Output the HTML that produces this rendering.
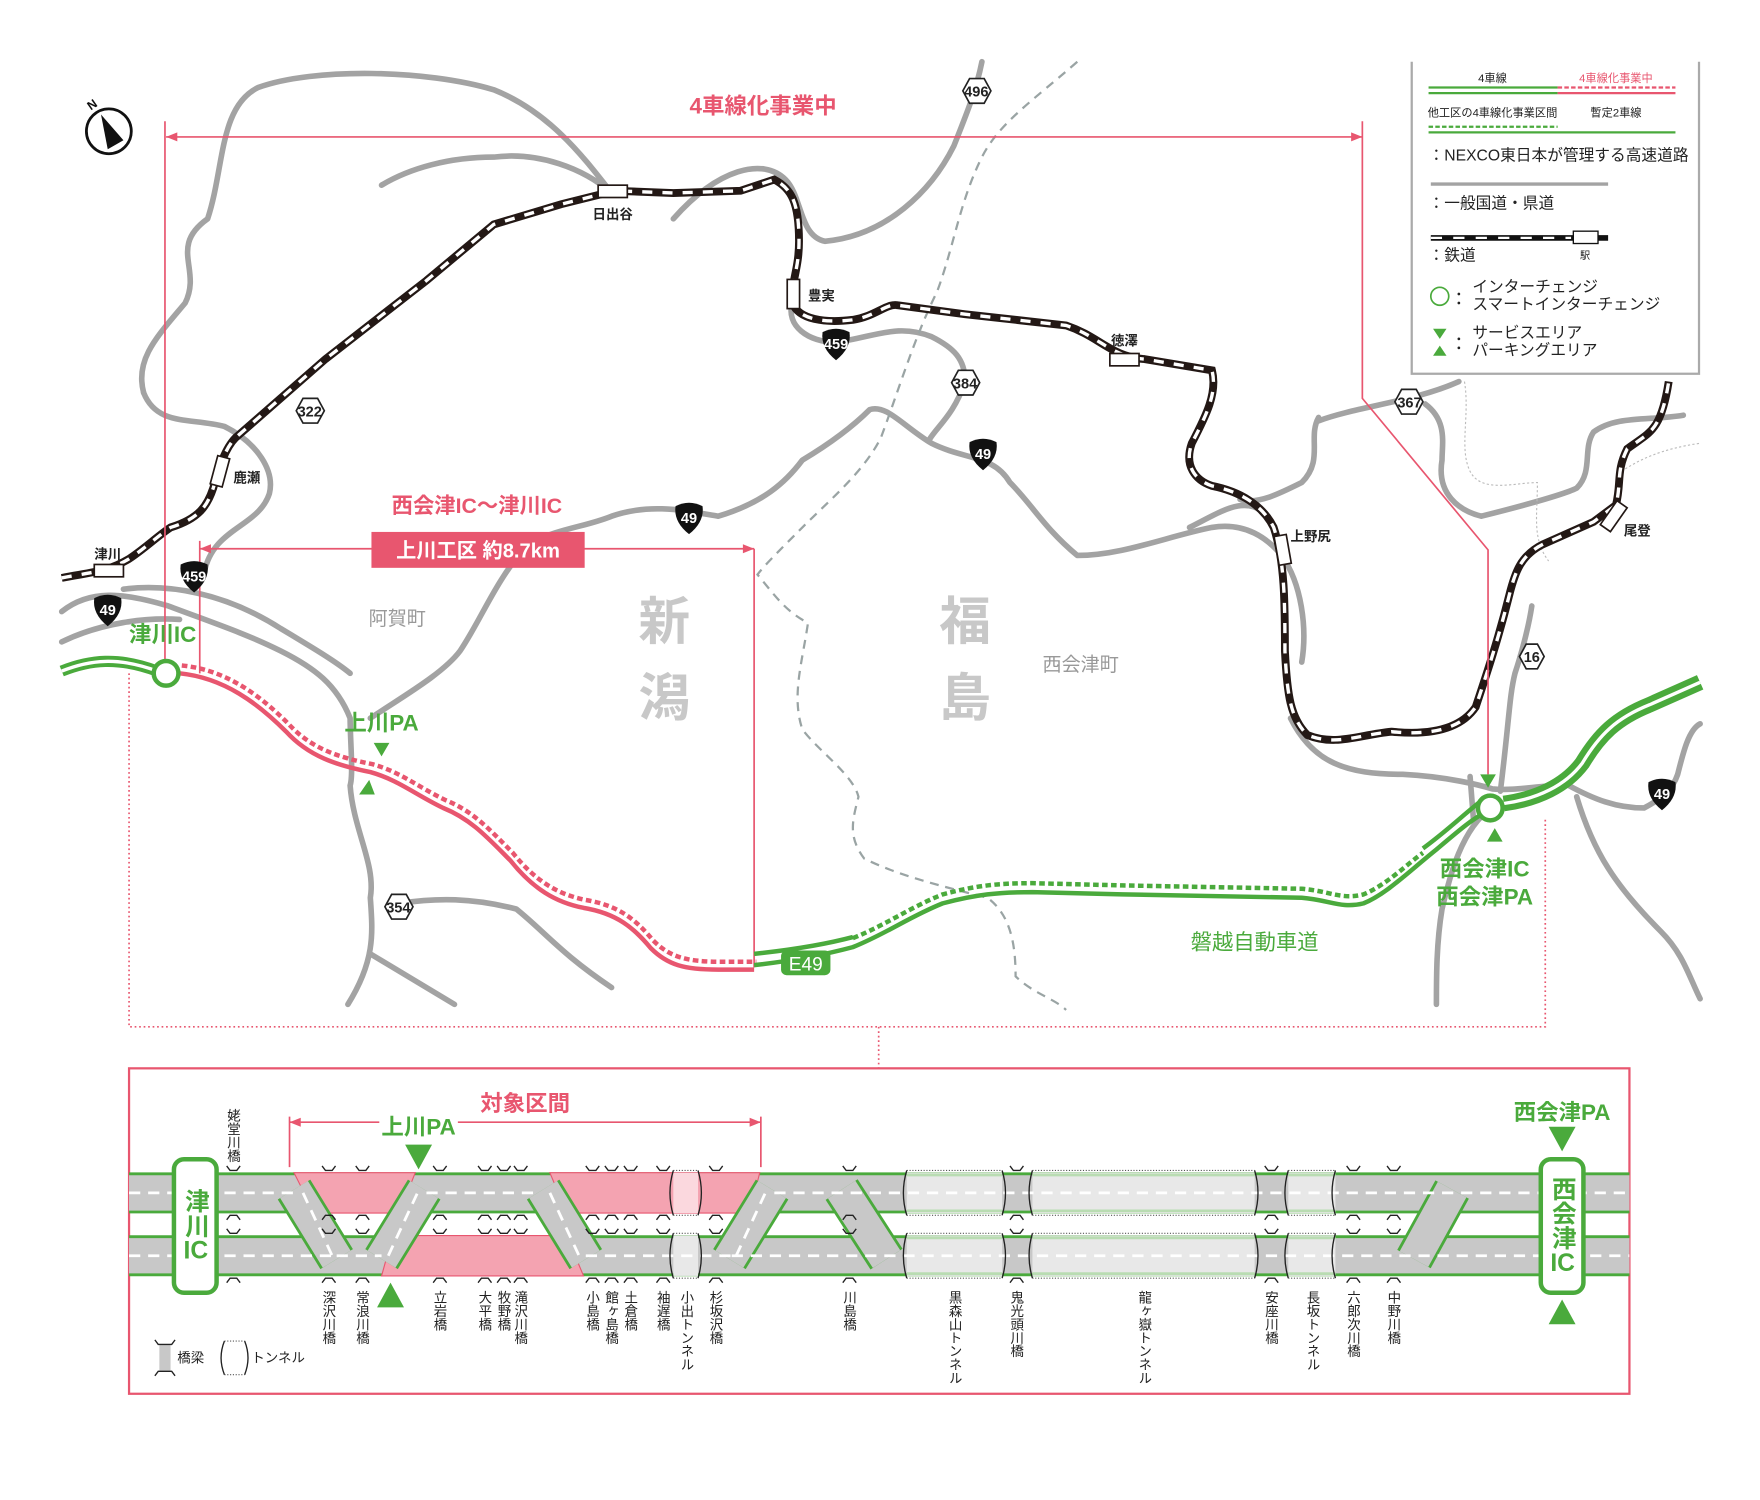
<!DOCTYPE html>
<html><head><meta charset="utf-8"><style>
html,body{margin:0;padding:0;background:#fff;}
body{width:1760px;height:1500px;overflow:hidden;font-family:"Liberation Sans","Noto Sans CJK JP",sans-serif;}
#s{position:absolute;left:0;top:0;width:1560px;height:1330px;transform:scale(1.1222);transform-origin:0 0;}
svg{position:absolute;left:0;top:0;}
.v{position:absolute;writing-mode:vertical-rl;font-size:12px;line-height:12px;color:#222;letter-spacing:0;}
.tc{text-combine-upright:all;}
</style></head><body><div id="s">
<svg width="1560" height="1330" viewBox="0 0 1560 1330" font-family="Liberation Sans, Noto Sans CJK JP, sans-serif">
<g fill="none" stroke="#a3a3a3" stroke-width="5" stroke-linejoin="round" stroke-linecap="round">
<path d="M128,350 C120,320 140,300 165,270 C180,240 150,220 185,195 C200,150 195,95 230,78 C280,60 380,62 440,80 C490,100 520,140 545,172"/>
<path d="M545,172 C520,150 480,135 440,140 C400,140 365,150 340,165"/>
<path d="M128,350 C140,380 170,372 200,380 C230,395 245,420 240,440 C230,470 190,470 182,510"/>
<path d="M600,195 C640,150 680,140 700,160 C715,175 712,210 735,215 C790,210 830,170 850,130 C862,100 870,80 875,55"/>
<path d="M706,270 C700,290 720,305 745,305 C780,300 800,288 830,300 C850,310 860,320 860,340 C850,370 835,380 828,392"/>
<path d="M330,640 C360,620 395,600 410,580 C430,550 440,520 470,485 C500,470 520,470 545,460 C580,448 610,455 640,460 C680,448 700,430 715,410 C740,395 760,380 775,365 C790,360 805,380 830,395 C860,410 885,405 900,430 C920,450 930,470 960,495 C1000,495 1040,478 1080,470 C1110,465 1130,480 1142,495"/>
<path d="M55,545 C80,525 110,528 150,540 C190,555 220,565 250,580 C280,595 300,610 312,640 C312,660 315,690 312,700 C315,740 335,770 330,800 C332,830 335,855 310,895"/>
<path d="M110,525 C150,520 200,528 250,560 C280,578 300,590 312,600"/>
<path d="M55,572 C90,555 130,550 160,552"/>
<path d="M330,850 L405,895"/>
<path d="M356,805 C390,800 420,800 460,810 C485,830 500,850 545,880"/>
<path d="M1060,470 C1090,455 1110,440 1130,460"/>
<path d="M1142,495 C1160,520 1165,560 1160,590"/>
<path d="M1175,375 C1210,362 1260,358 1300,340 M1175,372 C1165,390 1180,410 1160,430 C1140,440 1120,450 1105,445"/>
<path d="M1270,360 C1290,375 1285,395 1285,410 C1280,440 1300,455 1320,460 C1360,450 1395,440 1405,435 C1420,420 1410,400 1420,385 C1440,370 1470,375 1500,370"/>
<path d="M1150,640 C1170,680 1200,690 1250,690 C1290,692 1320,700 1330,703 C1350,705 1370,700 1390,700"/>
<path d="M1310,692 L1313,730"/>
<path d="M1337,705 C1345,640 1345,620 1350,600 C1355,585 1362,560 1365,540"/>
<path d="M1329,720 C1300,740 1290,790 1285,810 C1280,840 1280,870 1280,895"/>
<path d="M1398,700 C1420,712 1440,720 1465,720 C1480,712 1490,705 1495,690 C1500,670 1505,650 1515,645"/>
<path d="M1405,710 C1420,760 1440,790 1480,830 C1500,850 1505,870 1515,890"/>
</g>
<path d="M960,55 C920,90 890,110 875,140 C855,180 850,220 835,260 C815,300 800,350 785,390 C770,420 740,445 715,470 C695,490 680,505 675,512 C690,530 700,545 720,555 C715,590 705,620 715,650 C730,670 760,690 765,710 C760,730 755,745 770,765 C800,780 840,790 880,800 C900,815 905,840 905,870 C920,885 940,890 950,900" fill="none" stroke="#9aa4a4" stroke-width="2" stroke-dasharray="8 6"/>
<path d="M1305,340 C1310,370 1300,400 1310,420 C1320,440 1350,430 1370,430 C1370,460 1365,480 1380,500 M1445,420 C1460,410 1480,400 1515,395" fill="none" stroke="#bbb" stroke-width="1" stroke-dasharray="2 2"/>
<g fill="none" stroke-linejoin="round">
<path id="rail" d="M55,515 C80,510 95,510 115,498 C130,488 140,478 152,470 C178,462 185,450 190,435 C195,418 200,400 210,390 L290,320 L380,250 L440,200 L500,182 L548,170 L600,172 L660,170 L690,160 C705,168 712,180 712,215 C712,240 705,250 706,270 C712,285 735,288 760,285 C780,282 790,270 800,272 L860,280 L950,290 C980,300 990,318 1020,320 L1080,330 C1085,350 1075,370 1062,395 C1055,415 1065,428 1080,433 C1105,438 1125,450 1135,470 C1145,500 1145,540 1145,580 C1147,620 1150,640 1165,655 C1190,665 1210,655 1240,652 C1270,655 1300,652 1315,630 C1325,600 1335,570 1345,530 C1350,510 1355,495 1375,485 L1420,465 L1440,450 C1445,430 1440,420 1450,400 C1470,385 1480,385 1487,340"/>
</g>
<use href="#rail" stroke="#231815" stroke-width="7" fill="none"/>
<use href="#rail" stroke="#fff" stroke-width="3" stroke-dasharray="9 9" fill="none"/>
<g fill="#fff" stroke="#231815" stroke-width="1.5">
<rect x="84" y="503" width="26" height="11"/>
<rect x="-13" y="-5.5" width="26" height="11" transform="translate(196,420) rotate(-75)"/>
<rect x="533" y="165" width="26" height="11"/>
<rect x="-13" y="-5.5" width="26" height="11" transform="translate(707,262) rotate(90)"/>
<rect x="989" y="315" width="26" height="11"/>
<rect x="-13" y="-5.5" width="26" height="11" transform="translate(1143,490) rotate(80)"/>
<rect x="-13" y="-5.5" width="26" height="11" transform="translate(1438,460) rotate(-55)"/>
</g>
<g font-size="12" font-weight="bold" fill="#222">
<text x="84" y="498">津川</text><text x="208" y="430">鹿瀬</text><text x="528" y="195">日出谷</text>
<text x="720" y="268">豊実</text><text x="990" y="308">徳澤</text><text x="1150" y="482">上野尻</text><text x="1447" y="477">尾登</text>
</g>
<g stroke="#e8566f" stroke-width="1.5" fill="none">
<path d="M148,122 L1214,122 M147,108 L147,595 M1214,108 L1214,355 L1326,490 L1326,690"/>
<path d="M178,489 L672,489 M178,482 L178,600 M672,489 L672,862"/>
<path d="M115,600 L115,915 L1377,915 L1377,730 M783,915 L783,952" stroke-dasharray="1.5 2.5"/>
</g>
<g fill="#e8566f"><path d="M148,122 l10,-4 v8z M1214,122 l-10,-4 v8z M178,489 l10,-4 v8z M672,489 l-10,-4 v8z"/></g>
<text x="680" y="101" font-size="20" font-weight="bold" fill="#e8566f" text-anchor="middle">4車線化事業中</text>
<text x="425" y="457" font-size="19" font-weight="bold" fill="#e8566f" text-anchor="middle">西会津IC～津川IC</text>
<rect x="331" y="474" width="190" height="32" fill="#e8566f"/>
<text x="426" y="497" font-size="18" font-weight="bold" fill="#fff" text-anchor="middle">上川工区 約8.7km</text>
<g fill="none" stroke-linecap="butt" stroke-linejoin="round">
<path d="M55,598 C80,588 105,585 140,598" stroke="#4aaa3c" stroke-width="10"/>
<path d="M55,598 C80,588 105,585 140,598" stroke="#fff" stroke-width="3"/>
<path id="pk" d="M160,598 C200,602 230,625 255,650 C275,672 300,680 330,686 C355,693 370,706 395,718 C420,728 435,745 455,765 C475,790 495,802 520,807 C550,812 565,825 580,843 C595,858 610,862 640,862 L672,862"/>
<use href="#pk" stroke="#e8566f" stroke-width="4" transform="translate(0,2)"/>
<use href="#pk" stroke="#e8566f" stroke-width="4" stroke-dasharray="5 3" transform="translate(2,-5)"/>
<path id="gr" d="M672,858 C700,855 730,850 760,842 C790,830 810,815 840,803 C870,795 890,793 920,793 L1000,795 L1160,798 C1185,800 1195,808 1215,803 C1235,795 1255,775 1280,755 C1300,738 1315,725 1328,720"/>
<use href="#gr" stroke="#4aaa3c" stroke-width="4" transform="translate(0,2)"/>
<path d="M672,855 C700,852 730,848 760,840" stroke="#4aaa3c" stroke-width="4" transform="translate(0,-5)"/>
<path d="M760,836 C790,824 810,809 840,797 C870,789 890,787 920,787 L1000,789 L1160,792 C1185,794 1195,802 1215,797 C1235,789 1255,769 1268,760" stroke="#4aaa3c" stroke-width="4" stroke-dasharray="5 3"/>
<path d="M1268,756 C1290,740 1305,725 1322,712" stroke="#4aaa3c" stroke-width="4"/>
<path d="M1340,716 C1370,712 1395,700 1410,680 C1425,655 1440,640 1470,628 L1515,608" stroke="#4aaa3c" stroke-width="14"/>
<path d="M1340,716 C1370,712 1395,700 1410,680 C1425,655 1440,640 1470,628 L1515,608" stroke="#fff" stroke-width="3"/>
</g>
<circle cx="148" cy="600" r="11" fill="#fff" stroke="#4aaa3c" stroke-width="4"/>
<circle cx="1328" cy="720" r="11" fill="#fff" stroke="#4aaa3c" stroke-width="4"/>
<rect x="696" y="847" width="44" height="22" rx="5" fill="#4aaa3c"/>
<text x="718" y="865" font-size="17" fill="#fff" text-anchor="middle">E49</text>
<g fill="#4aaa3c">
<path d="M333,662 h14 l-7,12z M320,708 h14 l-5,-13z"/>
<path d="M1319,690 h14 l-7,12z M1325,750 h14 l-7,-12z"/>
</g>
<g font-weight="bold" fill="#4aaa3c">
<text x="145" y="572" font-size="20" text-anchor="middle">津川IC</text>
<text x="340" y="651" font-size="20" text-anchor="middle">上川PA</text>
<text x="1323" y="781" font-size="20" text-anchor="middle">西会津IC</text>
<text x="1323" y="806" font-size="20" text-anchor="middle">西会津PA</text>
<text x="1118" y="846" font-size="19" font-weight="normal" text-anchor="middle">磐越自動車道</text>
</g>
<g fill="#999" text-anchor="middle">
<text x="354" y="557" font-size="17">阿賀町</text>
<text x="963" y="598" font-size="17">西会津町</text>
</g>
<g fill="#c8c8c8" font-size="46" text-anchor="middle" font-weight="bold">
<text x="592" y="570">新</text><text x="592" y="638">潟</text>
<text x="860" y="570">福</text><text x="860" y="638">島</text>
</g>
<g fill="#fff" stroke="#222" stroke-width="1.5">
<path d="M858,81 l6,-11 h13 l6,11 l-6,11 h-13z"/>
<path d="M264,366 l6,-11 h13 l6,11 l-6,11 h-13z"/>
<path d="M848,341 l6,-11 h13 l6,11 l-6,11 h-13z"/>
<path d="M1243,358 l6,-11 h13 l6,11 l-6,11 h-13z"/>
<path d="M1354,585 l6,-11 h10 l6,11 l-6,11 h-10z"/>
<path d="M343,808 l6,-11 h13 l6,11 l-6,11 h-13z"/>
</g>
<g font-size="13" font-weight="bold" fill="#222" text-anchor="middle">
<text x="870" y="86">496</text><text x="276" y="371">322</text><text x="860" y="346">384</text>
<text x="1256" y="363">367</text><text x="1365" y="590">16</text><text x="355" y="813">354</text>
</g>
<g fill="#111">
<path d="M733,296 q12,-6 24,0 q2,14 -12,25 q-14,-11 -12,-25z"/>
<path d="M864,394 q12,-6 24,0 q2,14 -12,25 q-14,-11 -12,-25z"/>
<path d="M602,451 q12,-6 24,0 q2,14 -12,25 q-14,-11 -12,-25z"/>
<path d="M161,503 q12,-6 24,0 q2,14 -12,25 q-14,-11 -12,-25z"/>
<path d="M84,533 q12,-6 24,0 q2,14 -12,25 q-14,-11 -12,-25z"/>
<path d="M1469,697 q12,-6 24,0 q2,14 -12,25 q-14,-11 -12,-25z"/>
</g>
<g font-size="13" font-weight="bold" fill="#fff" text-anchor="middle">
<text x="745" y="311">459</text><text x="876" y="409">49</text><text x="614" y="466">49</text>
<text x="173" y="518">459</text><text x="96" y="548">49</text><text x="1481" y="712">49</text>
</g>
<circle cx="97" cy="117" r="20" fill="#fff" stroke="#111" stroke-width="2.5"/>
<path d="M90,102 L110,125 L96,133z" fill="#111"/>
<text x="78" y="97" font-size="11" font-weight="bold" fill="#111" transform="rotate(-35 82 93)">N</text>
<rect x="1258" y="50" width="256" height="283" fill="#fff"/>
<path d="M1258,55 V333 H1514 V55" fill="none" stroke="#aaa" stroke-width="2"/>
<g font-size="10" fill="#222" text-anchor="middle">
<text x="1330" y="73">4車線</text><text x="1440" y="73" fill="#e8566f">4車線化事業中</text>
<text x="1330" y="104">他工区の4車線化事業区間</text><text x="1440" y="104">暫定2車線</text>
</g>
<g stroke-width="2" fill="none">
<path d="M1273,78 H1388 M1273,83 H1388" stroke="#4aaa3c"/>
<path d="M1388,78 H1493" stroke="#e8566f" stroke-dasharray="4 2"/>
<path d="M1388,83 H1493" stroke="#e8566f"/>
<path d="M1273,113 H1388" stroke="#4aaa3c" stroke-dasharray="4 2"/>
<path d="M1273,118 H1493" stroke="#4aaa3c"/>
<path d="M1275,164 H1433" stroke="#a3a3a3" stroke-width="3"/>
<path d="M1275,212 H1433" stroke="#111" stroke-width="5"/>
<path d="M1275,212 H1400" stroke="#fff" stroke-width="2" stroke-dasharray="10 10"/>
</g>
<rect x="1402" y="206" width="22" height="11" fill="#fff" stroke="#111" stroke-width="1.2"/>
<g font-size="14" fill="#222">
<text x="1273" y="143">：NEXCO東日本が管理する高速道路</text>
<text x="1273" y="186">：一般国道・県道</text>
<text x="1273" y="232">：鉄道</text>
<text x="1408" y="231" font-size="9">駅</text>
<text x="1312" y="260">インターチェンジ</text>
<text x="1312" y="276">スマートインターチェンジ</text>
<text x="1312" y="301">サービスエリア</text>
<text x="1312" y="317">パーキングエリア</text>
</g>
<circle cx="1300" cy="262" r="1.2" fill="#222"/><circle cx="1300" cy="270" r="1.2" fill="#222"/>
<circle cx="1300" cy="302" r="1.2" fill="#222"/><circle cx="1300" cy="310" r="1.2" fill="#222"/>
<circle cx="1283" cy="264" r="8" fill="none" stroke="#4aaa3c" stroke-width="1.5"/>
<path d="M1277,293 h12 l-6,9z M1277,317 h12 l-6,-9z" fill="#4aaa3c"/>

<rect x="115" y="952" width="1337" height="290" fill="none" stroke="#e8566f" stroke-width="2"/>
<path d="M258,1000 L678,1000 M258,995 V1040 M678,995 V1040" stroke="#e8566f" stroke-width="1.5" fill="none"/>
<path d="M258,1000 l10,-4 v8z M678,1000 l-10,-4 v8z" fill="#e8566f"/>
<text x="468" y="990" font-size="20" font-weight="bold" fill="#e8566f" text-anchor="middle">対象区間</text>
<rect x="338" y="992" width="70" height="18" fill="#fff"/>
<text x="373" y="1011" font-size="20" font-weight="bold" fill="#4aaa3c" text-anchor="middle">上川PA</text>
<path d="M361,1020 h24 l-12,22z M336,1165 h24 l-12,-22z" fill="#4aaa3c"/>
<text x="1392" y="998" font-size="20" font-weight="bold" fill="#4aaa3c" text-anchor="middle">西会津PA</text>
<path d="M1380,1004 h24 l-12,22z M1380,1180 h24 l-12,-22z" fill="#4aaa3c"/>
<rect x="115" y="1046" width="1337" height="34" fill="#c8c8c8"/>
<rect x="115" y="1102" width="1337" height="34" fill="#c8c8c8"/>
<g stroke="#4aaa3c" stroke-width="2.5">
<path d="M115,1046 H1452 M115,1080 H1452 M115,1102 H1452 M115,1136 H1452"/>
</g>
<g fill="#f4a3b1" stroke="#e8566f" stroke-width="1">
<polygon points="262,1045 370,1045 356,1081 280,1081"/>
<polygon points="350,1101 505,1101 520,1137 340,1137"/>
<polygon points="490,1045 677,1045 668,1081 505,1081"/>
</g>
<rect x="600" y="1045" width="22" height="36" fill="#fbd8de"/>
<g fill="#e8e8e8">
<rect x="600" y="1101" width="22" height="36"/>
<rect x="808" y="1045" width="85" height="36"/><rect x="808" y="1101" width="85" height="36"/>
<rect x="920" y="1045" width="198" height="36"/><rect x="920" y="1101" width="198" height="36"/>
<rect x="1148" y="1045" width="42" height="36"/><rect x="1148" y="1101" width="42" height="36"/>
</g>
<g stroke="#b9dcb2" stroke-width="2.5">
<path d="M808,1047 H893 M808,1079 H893 M808,1103 H893 M808,1135 H893 M920,1047 H1118 M920,1079 H1118 M920,1103 H1118 M920,1135 H1118 M1148,1047 H1190 M1148,1079 H1190 M1148,1103 H1190 M1148,1135 H1190"/>
</g>
<g stroke="#555" stroke-width="1" stroke-dasharray="1 1.5" fill="none">
<path d="M808,1043 H893 M808,1083 H893 M808,1099 H893 M808,1139 H893 M920,1043 H1118 M920,1083 H1118 M920,1099 H1118 M920,1139 H1118 M1148,1043 H1190 M1148,1083 H1190 M1148,1099 H1190 M1148,1139 H1190 M600,1043 H622 M600,1083 H622 M600,1099 H622 M600,1139 H622"/>
</g>
<g stroke-linecap="butt" fill="none">
<g stroke="#4aaa3c" stroke-width="34">
<path d="M262,1060 L300,1122 M340,1122 L378,1060 M484,1060 L522,1122 M650,1122 L688,1060 M750,1060 L790,1122 M1294,1060 L1260,1122"/>
</g>
<g stroke="#c8c8c8" stroke-width="29">
<path d="M262,1060 L300,1122 M340,1122 L378,1060 M484,1060 L522,1122 M650,1122 L688,1060 M750,1060 L790,1122 M1294,1060 L1260,1122"/>
</g>
</g>
<g stroke="#fff" stroke-width="2.5" stroke-dasharray="10 7" fill="none">
<path d="M115,1063 H262 M380,1063 H482 M690,1063 H1452"/>
<path d="M115,1119 H298 M300,1119 H340 M522,1119 H652 M652,1119 H1452"/>
<path d="M270,1063 L296,1119 M346,1119 L372,1063 M490,1063 L516,1119 M656,1119 L682,1063"/>
</g>
<g stroke="#222" stroke-width="1.2" fill="none">
<path d="M600,1043 q-6,20 0,40 M622,1043 q6,20 0,40 M600,1099 q-6,20 0,40 M622,1099 q6,20 0,40"/>
<path d="M808,1043 q-6,20 0,40 M808,1099 q-6,20 0,40 M893,1043 q6,20 0,40 M893,1099 q6,20 0,40 M920,1043 q-6,20 0,40 M920,1099 q-6,20 0,40"/>
<path d="M1118,1043 q6,20 0,40 M1118,1099 q6,20 0,40 M1148,1043 q-6,20 0,40 M1148,1099 q-6,20 0,40 M1190,1043 q-6,20 0,40 M1190,1099 q-6,20 0,40"/>
</g>
<g stroke="#222" stroke-width="1.2" fill="none">
<path d="M202,1039 l3,4 h6 l3,-4 M202,1087 l3,-4 h6 l3,4 M202,1095 l3,4 h6 l3,-4 M202,1143 l3,-4 h6 l3,4"/>
<path d="M287,1039 l3,4 h6 l3,-4 M287,1087 l3,-4 h6 l3,4 M287,1095 l3,4 h6 l3,-4 M287,1143 l3,-4 h6 l3,4"/>
<path d="M317,1039 l3,4 h6 l3,-4 M317,1087 l3,-4 h6 l3,4 M317,1095 l3,4 h6 l3,-4 M317,1143 l3,-4 h6 l3,4"/>
<path d="M386,1039 l3,4 h6 l3,-4 M386,1087 l3,-4 h6 l3,4 M386,1095 l3,4 h6 l3,-4 M386,1143 l3,-4 h6 l3,4"/>
<path d="M426,1039 l3,4 h6 l3,-4 M426,1087 l3,-4 h6 l3,4 M426,1095 l3,4 h6 l3,-4 M426,1143 l3,-4 h6 l3,4"/>
<path d="M443,1039 l3,4 h6 l3,-4 M443,1087 l3,-4 h6 l3,4 M443,1095 l3,4 h6 l3,-4 M443,1143 l3,-4 h6 l3,4"/>
<path d="M458,1039 l3,4 h6 l3,-4 M458,1087 l3,-4 h6 l3,4 M458,1095 l3,4 h6 l3,-4 M458,1143 l3,-4 h6 l3,4"/>
<path d="M522,1039 l3,4 h6 l3,-4 M522,1087 l3,-4 h6 l3,4 M522,1095 l3,4 h6 l3,-4 M522,1143 l3,-4 h6 l3,4"/>
<path d="M539,1039 l3,4 h6 l3,-4 M539,1087 l3,-4 h6 l3,4 M539,1095 l3,4 h6 l3,-4 M539,1143 l3,-4 h6 l3,4"/>
<path d="M556,1039 l3,4 h6 l3,-4 M556,1087 l3,-4 h6 l3,4 M556,1095 l3,4 h6 l3,-4 M556,1143 l3,-4 h6 l3,4"/>
<path d="M585,1039 l3,4 h6 l3,-4 M585,1087 l3,-4 h6 l3,4 M585,1095 l3,4 h6 l3,-4 M585,1143 l3,-4 h6 l3,4"/>
<path d="M632,1039 l3,4 h6 l3,-4 M632,1087 l3,-4 h6 l3,4 M632,1095 l3,4 h6 l3,-4 M632,1143 l3,-4 h6 l3,4"/>
<path d="M751,1039 l3,4 h6 l3,-4 M751,1087 l3,-4 h6 l3,4 M751,1095 l3,4 h6 l3,-4 M751,1143 l3,-4 h6 l3,4"/>
<path d="M900,1039 l3,4 h6 l3,-4 M900,1087 l3,-4 h6 l3,4 M900,1095 l3,4 h6 l3,-4 M900,1143 l3,-4 h6 l3,4"/>
<path d="M1127,1039 l3,4 h6 l3,-4 M1127,1087 l3,-4 h6 l3,4 M1127,1095 l3,4 h6 l3,-4 M1127,1143 l3,-4 h6 l3,4"/>
<path d="M1200,1039 l3,4 h6 l3,-4 M1200,1087 l3,-4 h6 l3,4 M1200,1095 l3,4 h6 l3,-4 M1200,1143 l3,-4 h6 l3,4"/>
<path d="M1236,1039 l3,4 h6 l3,-4 M1236,1087 l3,-4 h6 l3,4 M1236,1095 l3,4 h6 l3,-4 M1236,1143 l3,-4 h6 l3,4"/>
</g>
<rect x="155" y="1033" width="38" height="119" rx="9" fill="#fff" stroke="#4aaa3c" stroke-width="4"/>
<rect x="1373" y="1033" width="38" height="119" rx="9" fill="#fff" stroke="#4aaa3c" stroke-width="4"/>
<rect x="142" y="1198" width="10" height="24" fill="#c8c8c8"/>
<path d="M138,1194 l3,4 h12 l3,-4 M138,1226 l3,-4 h12 l3,4" stroke="#222" stroke-width="1.2" fill="none"/>
<text x="158" y="1214" font-size="12" fill="#222">橋梁</text>
<path d="M200,1195 q-6,15 0,30 M218,1195 q6,15 0,30" stroke="#222" stroke-width="1.2" fill="none"/>
<path d="M200,1195 H218 M200,1225 H218" stroke="#555" stroke-width="1" stroke-dasharray="1 1.5"/>
<text x="224" y="1214" font-size="12" fill="#222">トンネル</text>
</svg>
<div class="v" style="left:163px;top:1059px;font-size:22px;line-height:22px;color:#4aaa3c;font-weight:bold;">津川<span class="tc">IC</span></div>
<div class="v" style="left:1381px;top:1048px;font-size:22px;line-height:22px;color:#4aaa3c;font-weight:bold;">西会津<span class="tc">IC</span></div>
<div class="v" style="left:202px;top:988px;">姥堂川橋</div>
<div class="v" style="left:287px;top:1150px;">深沢川橋</div>
<div class="v" style="left:317px;top:1150px;">常浪川橋</div>
<div class="v" style="left:386px;top:1150px;">立岩橋</div>
<div class="v" style="left:426px;top:1150px;">大平橋</div>
<div class="v" style="left:443px;top:1150px;">牧野橋</div>
<div class="v" style="left:458px;top:1150px;">滝沢川橋</div>
<div class="v" style="left:522px;top:1150px;">小島橋</div>
<div class="v" style="left:539px;top:1150px;">館ヶ島橋</div>
<div class="v" style="left:556px;top:1150px;">土倉橋</div>
<div class="v" style="left:585px;top:1150px;">袖遅橋</div>
<div class="v" style="left:606px;top:1150px;">小出トンネル</div>
<div class="v" style="left:632px;top:1150px;">杉坂沢橋</div>
<div class="v" style="left:751px;top:1150px;">川島橋</div>
<div class="v" style="left:845px;top:1150px;">黒森山トンネル</div>
<div class="v" style="left:900px;top:1150px;">鬼光頭川橋</div>
<div class="v" style="left:1014px;top:1150px;">龍ヶ嶽トンネル</div>
<div class="v" style="left:1127px;top:1150px;">安座川橋</div>
<div class="v" style="left:1164px;top:1150px;">長坂トンネル</div>
<div class="v" style="left:1200px;top:1150px;">六郎次川橋</div>
<div class="v" style="left:1236px;top:1150px;">中野川橋</div>
</div></body></html>
